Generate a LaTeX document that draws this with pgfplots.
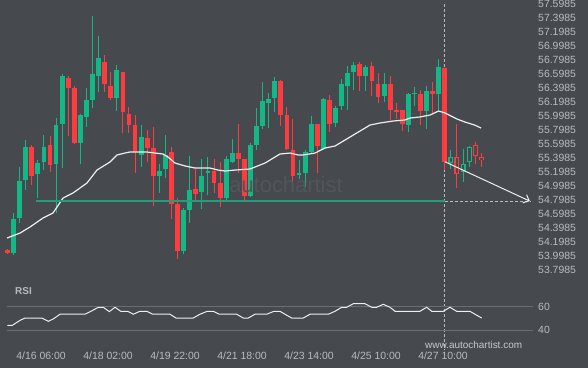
\documentclass[border=0pt]{standalone}
\usepackage{fontspec}
\setmainfont{Liberation Sans}
\usepackage{pgfplots}
\usepackage{pgfplotstable}
\pgfplotsset{compat=1.18}
\usetikzlibrary{arrows.meta}
\definecolor{bg}{HTML}{46494E}
\definecolor{cup}{HTML}{14B886}
\definecolor{cdn}{HTML}{FF3B3F}
\definecolor{lvl}{HTML}{1FA07A}
\definecolor{lbl}{HTML}{B8BBBF}
\definecolor{grd}{HTML}{6A6D72}
\definecolor{wm}{HTML}{52555A}
\definecolor{wl}{HTML}{EEEEEE}

\pgfplotstableread{
i o h l c
2 54.05 54.62 54.02 54.53
3 54.55 55.27 54.47 55.07
4 55.09 55.66 54.95 55.56
6 55.17 55.37 54.83 55.33
7 55.35 55.73 55.23 55.56
9 55.32 55.97 54.62 55.87
10 55.89 56.60 55.26 56.57
13 55.62 56.03 55.32 56.02
14 55.99 56.40 55.85 56.23
15 56.23 57.43 56.12 56.60
16 56.57 57.15 56.35 56.83
19 56.26 56.73 56.07 56.66
23 55.45 55.87 55.27 55.70
26 55.15 55.32 54.90 55.22
27 55.25 55.73 55.12 55.45
30 54.07 54.69 54.03 54.66
31 54.66 55.43 54.47 54.95
33 54.92 55.39 54.67 55.15
34 55.19 55.42 54.87 55.22
37 54.83 55.43 54.80 55.39
38 55.35 55.67 55.33 55.47
41 54.86 55.62 54.85 55.59
42 55.59 56.12 55.52 55.86
43 55.86 56.49 55.82 56.22
44 56.19 56.33 55.83 56.25
45 56.26 56.56 56.06 56.50
49 55.16 55.37 55.10 55.19
50 55.19 55.52 54.99 55.49
51 55.49 56.00 55.46 55.89
53 55.53 56.26 55.52 56.25
55 55.90 56.15 55.85 56.12
56 56.15 56.53 56.09 56.46
57 56.43 56.72 56.09 56.62
58 56.63 56.77 56.37 56.73
60 56.57 56.73 56.36 56.70
63 56.29 56.62 56.20 56.46
67 55.87 56.33 55.77 56.32
68 56.32 56.42 56.15 56.33
70 56.07 56.43 55.82 56.36
72 56.32 56.82 56.07 56.70
}\greens

\pgfplotstableread{
i o h l c
1 54.09 54.10 54.03 54.05
5 55.56 55.59 55.02 55.15
8 55.59 55.72 55.20 55.30
11 56.55 56.57 55.72 56.40
12 56.40 56.43 55.60 55.62
17 56.77 56.87 56.35 56.46
18 56.43 56.63 56.23 56.26
20 56.63 56.63 55.76 56.06
21 56.03 56.13 55.76 55.87
22 55.87 56.02 55.19 55.49
24 55.69 55.80 55.35 55.55
25 55.55 55.85 54.72 55.15
28 55.49 55.56 54.53 54.75
29 54.75 54.83 53.96 54.07
32 54.96 55.25 54.80 54.89
35 55.22 55.39 54.90 55.05
36 55.05 55.35 54.70 54.83
39 55.47 55.89 55.19 55.39
40 55.39 55.39 54.77 54.86
46 56.50 56.52 55.86 56.02
47 56.02 56.13 55.52 55.53
48 55.52 55.96 54.93 55.15
52 55.89 55.89 55.19 55.57
54 56.23 56.30 55.77 55.89
59 56.75 56.77 56.36 56.57
61 56.72 56.77 56.29 56.50
62 56.46 56.62 56.19 56.27
64 56.46 56.57 55.95 56.09
65 56.09 56.19 55.96 56.06
66 56.09 56.09 55.79 55.89
69 56.32 56.37 55.87 56.07
71 56.36 56.49 56.05 56.32
73 56.69 56.69 55.23 55.35
}\reds

\pgfplotstableread{
i o h l c
74 55.33 55.52 55.25 55.42
76 55.20 55.53 55.06 55.32
77 55.35 55.57 55.27 55.56
}\hgreens

\pgfplotstableread{
i o h l c
75 55.42 55.89 54.97 55.17
78 55.59 55.63 55.32 55.43
79 55.42 55.47 55.27 55.37
}\hreds

\pgfplotstableread{
x y
0.92 54.260
3.06 54.331
4.70 54.417
6.84 54.546
8.49 54.617
10.14 54.831
11.78 54.903
14.09 55.046
15.73 55.231
17.87 55.346
19.03 55.446
20.34 55.474
21.17 55.489
23.97 55.489
25.28 55.474
26.60 55.460
27.42 55.417
28.58 55.331
30.22 55.289
31.87 55.260
34.34 55.260
35.66 55.231
36.81 55.217
38.46 55.231
40.93 55.246
43.40 55.331
45.04 55.417
45.87 55.460
47.52 55.474
48.83 55.446
49.65 55.446
51.63 55.474
53.28 55.546
54.92 55.574
56.57 55.660
58.21 55.746
59.86 55.831
60.68 55.874
62.33 55.903
64.47 55.931
66.44 55.946
67.27 55.974
68.91 55.989
70.56 56.017
71.97 56.074
73.03 56.046
74.35 55.989
75.00 55.960
76.30 55.917
77.90 55.874
78.96 55.831
}\ma

\pgfplotstableread{
x y
0.97 44.2
1.79 44.2
3.06 48.4
3.88 50.4
6.63 50.4
7.72 47.6
8.54 49.6
9.64 53.6
13.76 53.6
14.86 56.4
15.95 59.5
16.77 59.5
17.76 55.8
18.70 59.5
19.64 56.1
20.79 56.1
21.71 53.6
22.81 56.1
23.92 56.1
24.91 53.6
27.75 53.6
28.74 50.4
31.59 50.4
32.69 53.6
33.89 56.1
34.88 56.1
35.87 53.6
38.73 53.6
39.82 50.4
40.64 50.4
41.75 53.6
43.67 53.6
44.88 56.1
45.86 56.1
46.69 53.6
47.79 50.4
49.70 50.4
50.80 53.6
53.82 53.6
54.92 56.1
56.02 59.5
56.84 59.5
57.93 62.5
59.86 62.5
60.96 59.5
61.78 59.5
62.87 62.0
63.97 59.5
64.80 56.1
68.91 56.1
70.02 59.5
70.84 56.1
72.75 56.1
73.85 59.5
74.95 56.1
77.14 56.1
77.97 53.6
79.07 50.4
}\rsi

\pgfplotsset{
  candle/.style 2 args={draw=none, mark=none,
    error bars/.cd, y dir=both, y explicit, error mark=none,
    error bar style={draw=#1, line width=#2}},
}

\begin{document}
\begin{tikzpicture}
\fill[bg] (0,0) rectangle (588bp,368bp);
\useasboundingbox (0,0) rectangle (588bp,368bp);

\begin{axis}[
  at={(0bp,90bp)}, anchor=south west, scale only axis,
  width=530bp, height=278bp,
  xmin=-0.235, xmax=87.02, ymin=53.689, ymax=57.66,
  axis line style={draw=none}, major tick length=0pt,
  xtick=\empty,
  ytick={53.7985,53.9985,54.1985,54.3985,54.5985,54.7985,54.9985,55.1985,55.3985,55.5985,55.7985,55.9985,56.1985,56.3985,56.5985,56.7985,56.9985,57.1985,57.3985,57.5985},
  yticklabel pos=right,
  yticklabel style={anchor=west, inner sep=0pt, xshift=8bp, text=lbl,
    font=\fontsize{10.5}{12}\selectfont,
    /pgf/number format/.cd, fixed, fixed zerofill, precision=4, assume math mode=true},
  clip=false,
]
% vertical marker (behind candles)
\addplot[lbl, line width=0.8bp, dash pattern=on 3bp off 2bp, no marks] coordinates {(73,57.603) (73,52.66)};
% wicks
\addplot[candle={cup}{1bp}] table[x=i, y expr={(\thisrow{h}+\thisrow{l})/2}, y error expr={(\thisrow{h}-\thisrow{l})/2}] {\greens};
\addplot[candle={cdn}{1bp}] table[x=i, y expr={(\thisrow{h}+\thisrow{l})/2}, y error expr={(\thisrow{h}-\thisrow{l})/2}] {\reds};
\addplot[candle={cup}{1bp}] table[x=i, y expr={(\thisrow{h}+\thisrow{l})/2}, y error expr={(\thisrow{h}-\thisrow{l})/2}] {\hgreens};
\addplot[candle={cdn}{1bp}] table[x=i, y expr={(\thisrow{h}+\thisrow{l})/2}, y error expr={(\thisrow{h}-\thisrow{l})/2}] {\hreds};
% bodies
\addplot[candle={cup}{4.8bp}] table[x=i, y expr={(\thisrow{o}+\thisrow{c})/2}, y error expr={max(abs(\thisrow{o}-\thisrow{c})/2,0.008)}] {\greens};
\addplot[candle={cdn}{4.8bp}] table[x=i, y expr={(\thisrow{o}+\thisrow{c})/2}, y error expr={max(abs(\thisrow{o}-\thisrow{c})/2,0.008)}] {\reds};
\addplot[candle={cup}{5bp}] table[x=i, y expr={(\thisrow{o}+\thisrow{c})/2}, y error expr={max(abs(\thisrow{o}-\thisrow{c})/2,0.01)}] {\hgreens};
\addplot[candle={cdn}{5bp}] table[x=i, y expr={(\thisrow{o}+\thisrow{c})/2}, y error expr={max(abs(\thisrow{o}-\thisrow{c})/2,0.01)}] {\hreds};
\addplot[candle={bg}{2.8bp}] table[x=i, y expr={(\thisrow{o}+\thisrow{c})/2}, y error expr={max(abs(\thisrow{o}-\thisrow{c})/2-0.0143,0.0005)}] {\hgreens};
\addplot[candle={bg}{2.8bp}] table[x=i, y expr={(\thisrow{o}+\thisrow{c})/2}, y error expr={max(abs(\thisrow{o}-\thisrow{c})/2-0.0143,0.0005)}] {\hreds};
% moving average
\addplot[wl, line width=1.2bp, no marks] table {\ma};
% level line
\addplot[lvl, line width=2.6bp, no marks] coordinates {(5.69,54.787) (73,54.787)};
\addplot[lbl, line width=0.8bp, dash pattern=on 3bp off 2bp, no marks] coordinates {(73,54.787) (87.0,54.787)};
\addplot[wl, line width=1bp, no marks, -{Straight Barb[length=5bp,width=9bp]}] coordinates {(73,55.35) (87.0,54.787)};
\end{axis}

\node[text=wm, font=\fontsize{22}{24}\selectfont] at (286bp,183bp) {autochartist};

\begin{axis}[
  at={(0bp,23bp)}, anchor=south west, scale only axis,
  width=533bp, height=65bp,
  xmin=-0.235, xmax=87.52, ymin=27.54, ymax=82.6,
  axis line style={draw=none}, major tick length=0pt,
  ytick={40,60},
  yticklabel pos=right,
  yticklabel style={anchor=west, inner sep=0pt, xshift=5bp, text=lbl,
    font=\fontsize{10.5}{12}\selectfont, /pgf/number format/assume math mode=true},
  xtick={6.515,17.55,28.58,39.61,50.64,61.67,72.70},
  xticklabels={4/16 06:00,4/18 02:00,4/19 22:00,4/21 18:00,4/23 14:00,4/25 10:00,4/27 10:00},
  xticklabel style={anchor=north, inner sep=0pt, yshift=-7bp, text=lbl,
    font=\fontsize{10.5}{12}\selectfont},
  clip=false,
]
\addplot[grd, line width=0.8bp, no marks] coordinates {(0.97,60) (87.52,60)};
\addplot[grd, line width=0.8bp, no marks] coordinates {(0.97,40) (87.52,40)};
\addplot[wl, line width=1bp, no marks] table {\rsi};
\end{axis}

\node[anchor=west, inner sep=0pt, text=lbl, font=\fontsize{10}{12}\selectfont\bfseries] at (15bp,77bp) {RSI};
\node[anchor=west, inner sep=0pt, text=lbl!80!white, font=\fontsize{10}{12}\selectfont] at (425bp,23bp) {www.autochartist.com};
\end{tikzpicture}
\end{document}
